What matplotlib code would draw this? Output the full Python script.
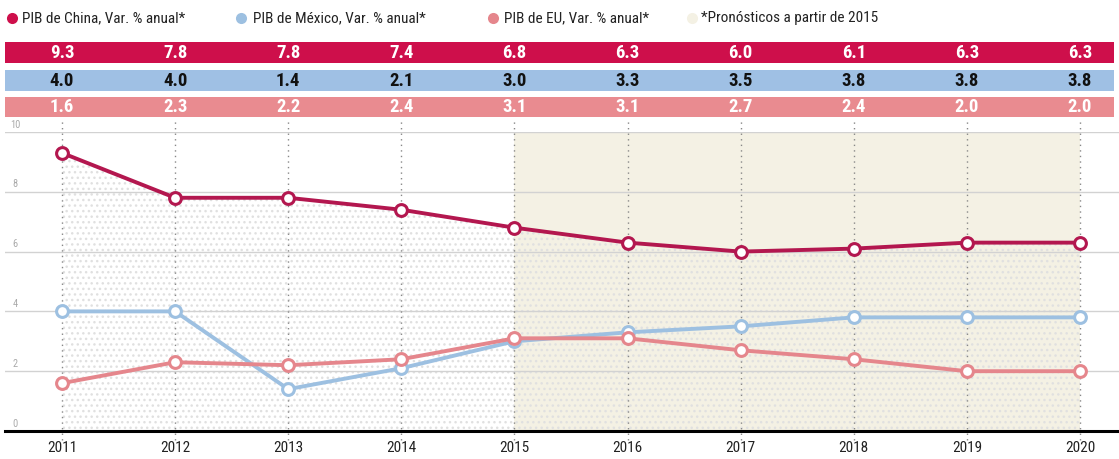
import matplotlib
matplotlib.use("Agg")
import matplotlib.pyplot as plt
from matplotlib.patches import Rectangle
from matplotlib.lines import Line2D
from matplotlib.transforms import blended_transform_factory
import matplotlib.font_manager as fm

years = [2011, 2012, 2013, 2014, 2015, 2016, 2017, 2018, 2019, 2020]
china = [9.3, 7.8, 7.8, 7.4, 6.8, 6.3, 6.0, 6.1, 6.3, 6.3]
mexico = [4.0, 4.0, 1.4, 2.1, 3.0, 3.3, 3.5, 3.8, 3.8, 3.8]
eu = [1.6, 2.3, 2.2, 2.4, 3.1, 3.1, 2.7, 2.4, 2.0, 2.0]
yticks = [0, 2, 4, 6, 8, 10]
legend_labels = ["PIB de China, Var. % anual*", "PIB de México, Var. % anual*",
                 "PIB de EU, Var. % anual*", "*Pronósticos a partir de 2015"]
forecast_start = 2015

names = {f.name for f in fm.fontManager.ttflist}
fam = [f for f in ["Liberation Sans Narrow", "Roboto Condensed", "Roboto", "DejaVu Sans"] if f in names]
plt.rcParams['font.family'] = fam
plt.rcParams['hatch.linewidth'] = 1.0

C_CHINA_LINE = "#B3174F"
C_CHINA_ROW = "#CE0F4B"
C_MEX = "#9DC0E1"
C_MEX_ROW = "#9FC0E4"
C_EU = "#E5868C"
C_EU_ROW = "#E98B90"
C_BEIGE = "#F4F1E4"

W, H = 1119, 459
fig = plt.figure(figsize=(W / 100, H / 100), dpi=100)
fig.patch.set_facecolor("white")

ax = fig.add_axes([5 / W, (H - 431) / H, (1119 - 5) / W, (431 - 132) / H])
px_per_year = (1080 - 62) / 9
ax.set_xlim(2011 - 57 / px_per_year, 2020 + 39 / px_per_year)
ax.set_ylim(0, 10)
for s in ax.spines.values():
    s.set_visible(False)
ax.set_facecolor("none")
ax.tick_params(length=0)
ax.set_xticks([])
ax.set_yticks([])

ax.axvspan(forecast_start, years[-1], ymin=0, ymax=1, color=C_BEIGE, zorder=0, lw=0)
ax.fill_between(years, 0, china, facecolor="none", edgecolor="#e0e0e0", hatch="...", lw=0, zorder=1)

for yv in yticks[1:]:
    ax.axhline(yv, color="#d2d2d2", lw=1.0, zorder=1.5)
ax.axhline(0, color="black", lw=2.2, zorder=5, clip_on=False)

trans_vx = blended_transform_factory(ax.transData, fig.transFigure)
for yr in years:
    ax.plot([yr, yr], [(H - 440) / H, (H - 120) / H], transform=trans_vx,
            color="#888888", lw=1.0, ls=(0, (1, 3)), zorder=1.6, clip_on=False)

trans_ly = blended_transform_factory(fig.transFigure, ax.transData)
for yv in yticks:
    ax.text(15 / W, yv + 0.25, str(yv), transform=trans_ly, fontsize=7.5,
            color="#aaaaaa", ha="center", va="center")

mk = dict(marker="o", markersize=8.5, markerfacecolor="white", markeredgewidth=2.2)
ax.plot(years, mexico, color=C_MEX, lw=2.8, zorder=3, markeredgecolor=C_MEX, **mk)
ax.plot(years, eu, color=C_EU, lw=2.8, zorder=3.5, markeredgecolor=C_EU, **mk)
ax.plot(years, china, color=C_CHINA_LINE, lw=2.8, zorder=4, markeredgecolor=C_CHINA_LINE, **mk)

for yr in years:
    ax.text(yr, (H - 448) / H, str(yr), transform=trans_vx, fontsize=11,
            color="#222222", ha="center", va="center")

rows = [(china, C_CHINA_ROW, "white", 42, 63),
        (mexico, C_MEX_ROW, "#111111", 70, 91),
        (eu, C_EU_ROW, "white", 97, 117)]
for vals, col, tcol, top, bot in rows:
    fig.patches.append(Rectangle((5 / W, (H - bot) / H), (1114 - 5) / W, (bot - top) / H,
                                 transform=fig.transFigure, facecolor=col, edgecolor="none", zorder=1))
    yc = (H - (top + bot) / 2) / H
    for yr, v in zip(years, vals):
        fig.text(yr, yc, f"{v:.1f}", transform=trans_vx, fontsize=13.5, fontweight="bold",
                 color=tcol, ha="center", va="center", zorder=5)

leg = [(12, 22, C_CHINA_ROW), (241, 253, C_MEX), (493, 504, C_EU), (692, 701, C_BEIGE)]
for (dx, tx, c), lab in zip(leg, legend_labels):
    fig.add_artist(Line2D([dx / W], [(H - 18) / H], transform=fig.transFigure, marker="o",
                          markersize=8, markerfacecolor=c, markeredgecolor="none", linestyle="none"))
    fig.text(tx / W, (H - 18) / H, lab, fontsize=11, color="#222222", ha="left", va="center")

fig.savefig("out.png", dpi=100)
